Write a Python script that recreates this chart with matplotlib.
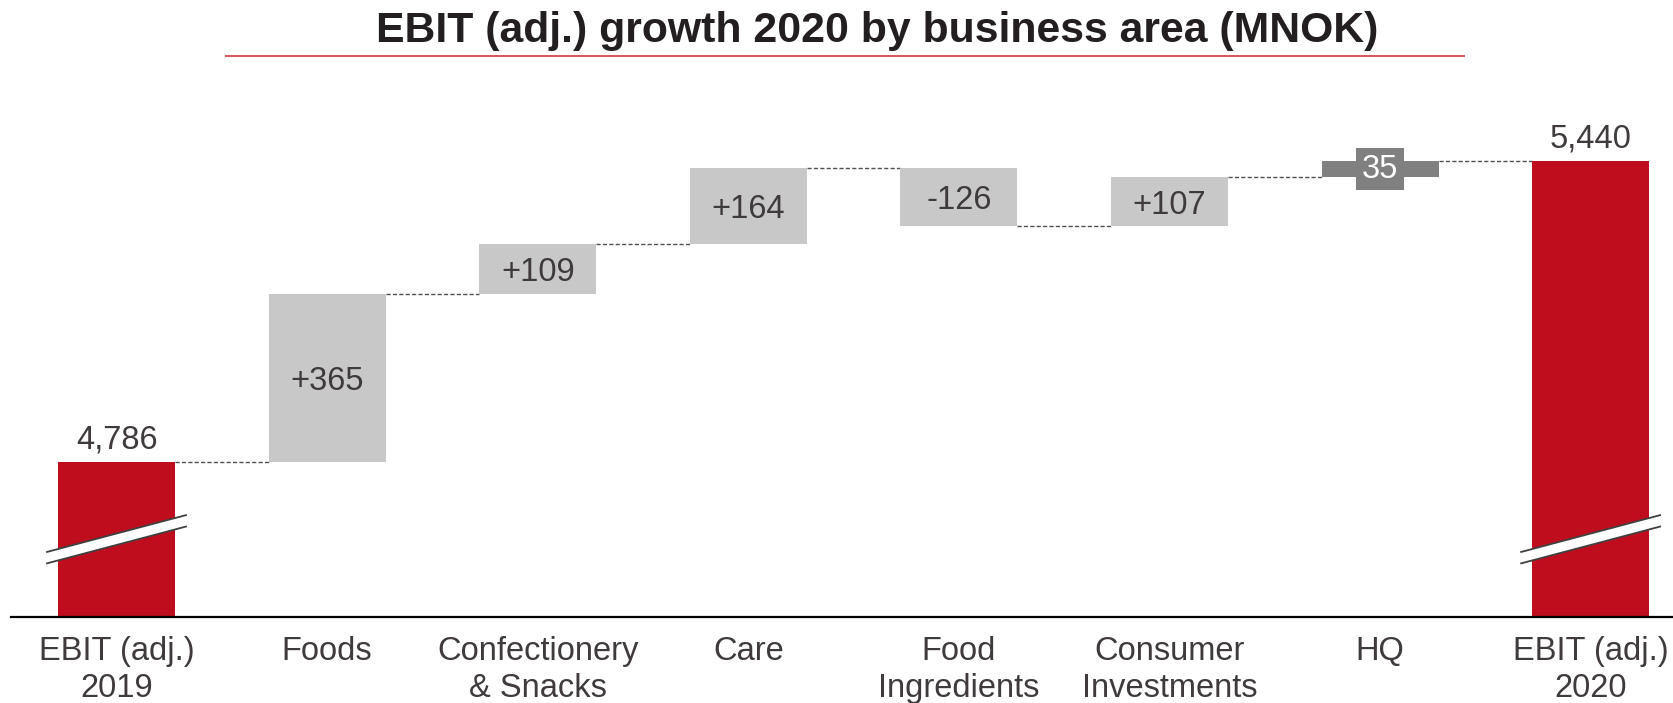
import matplotlib
matplotlib.use('Agg')
import matplotlib.pyplot as plt
from matplotlib.patches import Polygon
from matplotlib.lines import Line2D

# data
categories = ['EBIT (adj.)\n2019', 'Foods', 'Confectionery\n& Snacks', 'Care',
              'Food\nIngredients', 'Consumer\nInvestments', 'HQ', 'EBIT (adj.)\n2020']
start_value = 4786
deltas = [365, 109, 164, -126, 107, 35]
delta_labels = ['+365', '+109', '+164', '-126', '+107', '35']
end_value = 5440
title = 'EBIT (adj.) growth 2020 by business area (MNOK)'

RED = '#c00d1e'
GREY = '#c8c8c8'
DARK = '#808080'
TXT = '#3f3a3c'

plt.rcParams['font.family'] = ['Liberation Sans', 'DejaVu Sans']

fig = plt.figure(figsize=(16.73, 7.03), dpi=100)
ax = fig.add_axes([11/1673, 86/703, 1662/1673, 617/703])
ymin, ymax = 4449, 5790
ax.set_xlim(-0.501, 7.391)
ax.set_ylim(ymin, ymax)
w = 0.556

# start / end bars (axis is broken, so they start from the bottom)
ax.bar(0, start_value - ymin, bottom=ymin, width=w, color=RED, zorder=2)
ax.bar(len(categories) - 1, end_value - ymin, bottom=ymin, width=w, color=RED, zorder=2)
ax.annotate(f'{start_value:,}', (0, start_value), xytext=(0, 5), textcoords='offset points',
            ha='center', va='bottom', fontsize=23.5, color=TXT)
ax.annotate(f'{end_value:,}', (len(categories) - 1, end_value), xytext=(0, 5),
            textcoords='offset points', ha='center', va='bottom', fontsize=23.5, color=TXT)

# floating bars
level = start_value
levels = [start_value]
for i, (d, lab) in enumerate(zip(deltas, delta_labels), start=1):
    lo = min(level, level + d)
    col = DARK if categories[i] == 'HQ' else GREY
    ax.bar(i, abs(d), bottom=lo, width=w, color=col, zorder=2)
    mid = lo + abs(d) / 2
    if categories[i] == 'HQ':
        ax.text(i, mid, lab, ha='center', va='center', fontsize=23.5, color='white', zorder=3,
                bbox=dict(facecolor=DARK, edgecolor='none', pad=4))
    else:
        ax.text(i, mid, lab, ha='center', va='center_baseline', fontsize=23.5, color=TXT, zorder=3)
    level += d
    levels.append(level)

# connectors
for i, lv in enumerate(levels):
    ax.hlines(lv, i + w / 2, i + 1 - w / 2, colors='#505050', lw=1.0,
              linestyles=(0, (3, 1.6)), zorder=1)

# axis break marks on the red bars
def break_mark(xc):
    yc, rise, half = 4618, 40, 12.4
    hx = 0.33
    pts = [(xc - hx, yc - rise - half), (xc + hx, yc + rise - half),
           (xc + hx, yc + rise + half), (xc - hx, yc - rise + half)]
    ax.add_patch(Polygon(pts, closed=True, facecolor='white', edgecolor='none', zorder=4))
    ax.plot([xc - hx, xc + hx], [yc - rise - half, yc + rise - half], color='#404040', lw=1.3, zorder=5)
    ax.plot([xc - hx, xc + hx], [yc - rise + half, yc + rise + half], color='#404040', lw=1.3, zorder=5)

break_mark(0)
break_mark(len(categories) - 1)

for s in ['top', 'right', 'left']:
    ax.spines[s].set_visible(False)
ax.spines['bottom'].set_linewidth(1.6)
ax.spines['bottom'].set_color('black')
ax.set_yticks([])
ax.set_xticks(range(len(categories)))
ax.set_xticklabels(categories, fontsize=23.5, color=TXT, linespacing=1.25)
ax.tick_params(axis='x', length=0, pad=14)

fig.text(877/1673, 1 - 42/703, title, ha='center', va='baseline', fontsize=30.8,
         fontweight='bold', color='#231f20')
fig.add_artist(Line2D([226/1673, 1464/1673], [1 - 56/703, 1 - 56/703], color='#d9545a', lw=1.4))

fig.savefig('out.png', dpi=100)
